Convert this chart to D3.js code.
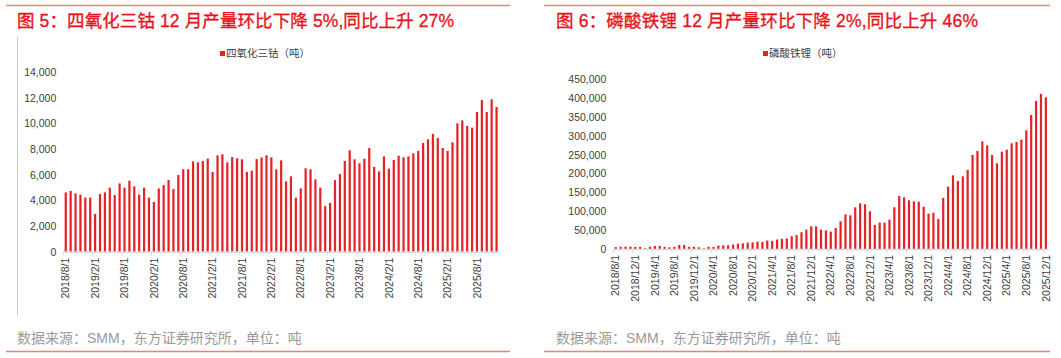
<!DOCTYPE html>
<html><head><meta charset="utf-8">
<script src="https://cdn.jsdelivr.net/npm/d3@7"></script>
<style>
html,body{margin:0;padding:0;background:#fff;}
svg{display:block;}
</style></head>
<body>
<svg id="c" width="1061" height="358"></svg>
<script>
// ---------- data ----------
const months = d3.timeMonth.range(new Date(2018,7,1), new Date(2026,0,1));
const fmt = d => d.getFullYear() + "/" + (d.getMonth()+1) + "/1";
const categories = months.map(fmt);

const cobaltTitle = "图 5：四氧化三钴 12 月产量环比下降 5%,同比上升 27%";
const cobaltLegend = "四氧化三钴（吨）";
const cobaltValues = [
 4630,4740,4550,4450,4220,4220,2940,4500,4630,5000,
 4420,5330,5000,5540,5100,4450,5000,4220,3880,4940,
 5200,5590,4890,5980,6430,6430,7050,6970,7080,7260,
 6220,7520,7600,6970,7390,7290,7210,6220,6320,7230,
 7360,7520,7360,6430,7130,5490,5880,4220,4940,6510,
 6430,5650,5000,3560,3800,5590,6060,7080,7910,7210,
 6900,7260,8090,6610,6270,7440,6480,7160,7490,7360,
 7440,7680,7860,8480,8770,9190,8870,8090,7860,8540,
 10020,10250,9810,9680,10900,11840,10900,11890,11290];
const cobaltYTicks = [0,2000,4000,6000,8000,10000,12000,14000];
const cobaltXLabels = ["2018/8/1","2019/2/1","2019/8/1","2020/2/1","2020/8/1","2021/2/1","2021/8/1","2022/2/1","2022/8/1","2023/2/1","2023/8/1","2024/2/1","2024/8/1","2025/2/1","2025/8/1"];

const lfpTitle = "图 6：磷酸铁锂 12 月产量环比下降 2%,同比上升 46%";
const lfpLegend = "磷酸铁锂（吨）";
const lfpValues = [
 5000,6000,6000,6200,5500,5500,1800,6200,8000,8000,
 5500,4500,5500,10600,10600,5500,6200,4500,1500,6000,
 5500,8800,9700,10000,12000,14000,15000,17000,17500,19500,
 18500,22500,21500,25000,27000,28000,34000,37000,44500,51300,
 60100,60100,51300,49500,46000,55700,73400,91900,89300,110500,
 121100,118500,99900,63600,69800,69800,77800,110500,140600,137000,
 129100,126400,125500,112300,93700,96400,79600,135300,165300,195400,
 180300,192700,209500,249300,259900,285500,274900,249300,227200,258100,
 263400,280200,283800,290000,314700,355400,392500,411100,402300];
const lfpYTicks = [0,50000,100000,150000,200000,250000,300000,350000,400000,450000];
const lfpXLabels = ["2018/8/1","2018/12/1","2019/4/1","2019/8/1","2019/12/1","2020/4/1","2020/8/1","2020/12/1","2021/4/1","2021/8/1","2021/12/1","2022/4/1","2022/8/1","2022/12/1","2023/4/1","2023/8/1","2023/12/1","2024/4/1","2024/8/1","2024/12/1","2025/4/1","2025/8/1","2025/12/1"];

const sourceText = "数据来源：SMM，东方证券研究所，单位：吨";

// ---------- drawing ----------
const svg = d3.select("#c");
const BAR = "#e52226";
const LATIN = "'Liberation Sans', Arial, 'Noto Sans CJK SC', sans-serif";
const CJK = "'Liberation Sans', 'Noto Sans CJK SC', sans-serif";

function panel(o) {
  const g = svg.append("g");
  // top & bottom rules
  g.append("line").attr("x1", o.frameX0).attr("x2", o.frameX1).attr("y1", 5.5).attr("y2", 5.5)
    .attr("stroke", "#ee7f7f").attr("stroke-width", 1.5);
  g.append("line").attr("x1", o.frameX0).attr("x2", o.frameX1).attr("y1", 351.5).attr("y2", 351.5)
    .attr("stroke", "#ee7f7f").attr("stroke-width", 1.5);
  // title
  g.append("text").attr("x", o.titleX).attr("y", 26.5).text(o.title)
    .attr("font-family", CJK).attr("font-size", 17.5).attr("font-weight", "normal")
    .attr("fill", "#e8141c").attr("stroke", "#e8141c").attr("stroke-width", 0.35)
    .attr("textLength", o.titleW).attr("lengthAdjust", "spacing");
  // source
  g.append("text").attr("x", o.titleX).attr("y", 343).text(sourceText)
    .attr("font-family", CJK).attr("font-size", 14).attr("fill", "#9a9a9a");
  if (o.vline) {
    g.append("line").attr("x1", 17.5).attr("x2", 17.5).attr("y1", 37).attr("y2", 316)
      .attr("stroke", "#c8c8c8").attr("stroke-width", 1);
  }
  // legend
  const lg = g.append("g").attr("transform", `translate(${o.legendX},57)`);
  lg.append("rect").attr("x", 0).attr("y", -6).attr("width", 5).attr("height", 5).attr("fill", BAR);
  lg.append("text").attr("x", 6).attr("y", 0).text(o.legend)
    .attr("font-family", CJK).attr("font-size", 10.5).attr("fill", "#404040");

  const x = d3.scaleBand().domain(categories).range([o.x0, o.x1]).paddingInner(0.55).paddingOuter(0.275);
  const y = d3.scaleLinear().domain([0, o.yMax]).range([o.yBase, o.yTop]);

  // y axis
  const ya = g.append("g").attr("transform", `translate(${o.x0 - 7},0)`)
    .call(d3.axisLeft(y).tickValues(o.yTicks).tickSize(0).tickPadding(0).tickFormat(d3.format(",")));
  ya.select(".domain").remove();
  ya.selectAll("text").attr("font-family", LATIN).attr("font-size", 10.5).attr("fill", "#404040");

  // bars
  g.append("g").selectAll("rect").data(o.values).join("rect")
    .attr("x", (d, i) => x(categories[i]))
    .attr("width", x.bandwidth())
    .attr("y", d => y(d))
    .attr("height", d => y(0) - y(d))
    .attr("fill", BAR);

  // baseline
  g.append("line").attr("x1", o.x0).attr("x2", o.x1).attr("y1", y(0) + 0.5).attr("y2", y(0) + 0.5)
    .attr("stroke", "#d9d9d9").attr("stroke-width", 1.5);
  // tick marks at band boundaries
  const step = x.step();
  g.append("g").selectAll("line").data(o.xLabels).join("line")
    .attr("x1", d => x(d) + x.bandwidth()/2 - step/2)
    .attr("x2", d => x(d) + x.bandwidth()/2 - step/2)
    .attr("y1", y(0)).attr("y2", y(0) + 4)
    .attr("stroke", "#d9d9d9").attr("stroke-width", 1);

  // x labels
  const xa = g.append("g").attr("transform", `translate(0,${y(0) + 6})`)
    .call(d3.axisBottom(x).tickValues(o.xLabels).tickSize(0).tickPadding(0));
  xa.select(".domain").remove();
  xa.selectAll("text")
    .attr("font-family", LATIN).attr("font-size", 10.5).attr("fill", "#404040")
    .attr("transform", "rotate(-90)")
    .attr("text-anchor", "end")
    .attr("dy", "0.35em").attr("x", 0).attr("y", 0);
}

panel({
  frameX0: 6, frameX1: 510, titleX: 17, titleW: 437, vline: true,
  title: cobaltTitle, legend: cobaltLegend, legendX: 220,
  x0: 63.3, x1: 499, yBase: 251.7, yTop: 72.3, yMax: 14000,
  yTicks: cobaltYTicks, xLabels: cobaltXLabels, values: cobaltValues
});
panel({
  frameX0: 544, frameX1: 1050, titleX: 556, titleW: 422, vline: false,
  title: lfpTitle, legend: lfpLegend, legendX: 763,
  x0: 613.3, x1: 1048.3, yBase: 249, yTop: 79.3, yMax: 450000,
  yTicks: lfpYTicks, xLabels: lfpXLabels, values: lfpValues
});
</script>
</body></html>
